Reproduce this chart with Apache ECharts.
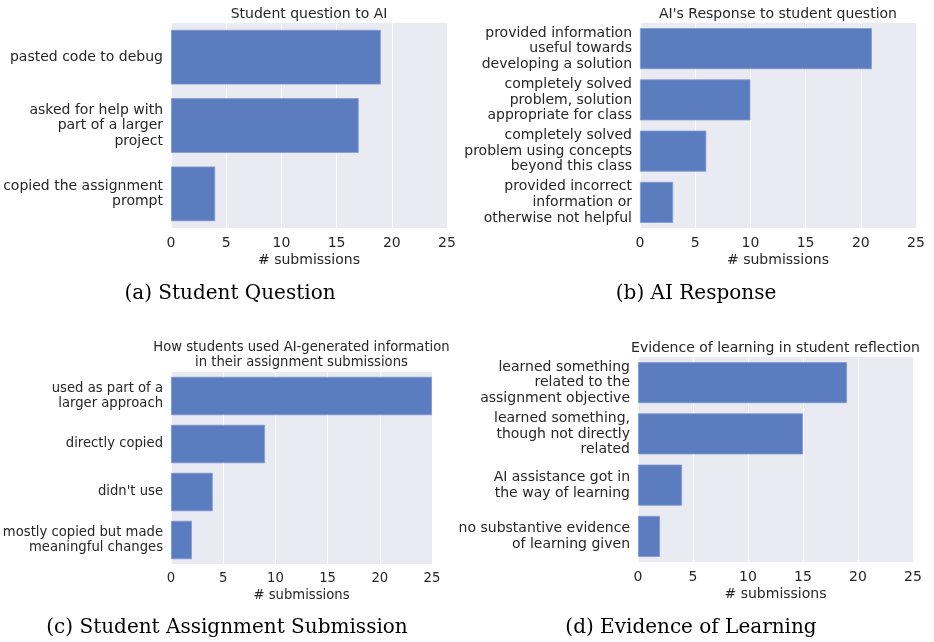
<!DOCTYPE html>
<html>
<head>
<meta charset="utf-8">
<script src="https://cdn.jsdelivr.net/npm/echarts@6/dist/echarts.min.js"></script>
<style>
  html, body { margin: 0; padding: 0; background: #fff; }
  #chart { width: 934px; height: 642px; }
</style>
</head>
<body>
<div id="chart"></div>
<script>
// panel (a)
const questionCats = ["pasted code to debug", "asked for help with\npart of a larger\nproject", "copied the assignment\nprompt"];
const questionVals = [19, 17, 4];
// panel (b)
const responseCats = ["provided information\nuseful towards\ndeveloping a solution", "completely solved\nproblem, solution\nappropriate for class", "completely solved\nproblem using concepts\nbeyond this class", "provided incorrect\ninformation or\notherwise not helpful"];
const responseVals = [21, 10, 6, 3];
// panel (c)
const submissionCats = ["used as part of a\nlarger approach", "directly copied", "didn't use", "mostly copied but made\nmeaningful changes"];
const submissionVals = [25, 9, 4, 2];
// panel (d)
const learningCats = ["learned something\nrelated to the\nassignment objective", "learned something,\nthough not directly\nrelated", "AI assistance got in\nthe way of learning", "no substantive evidence\nof learning given"];
const learningVals = [19, 15, 4, 2];

const panels = [
  { cats: questionCats, vals: questionVals, title: "Student question to AI", caption: "(a) Student Question", fs: 14,
    grid: { left: 171, top: 23, width: 276, height: 205 }, titleY: 6, capX: 230, capY: 294 },
  { cats: responseCats, vals: responseVals, title: "AI's Response to student question", caption: "(b) AI Response", fs: 14,
    grid: { left: 640, top: 23, width: 276, height: 205 }, titleY: 6, capX: 696, capY: 294 },
  { cats: submissionCats, vals: submissionVals, title: "How students used AI-generated information\nin their assignment submissions", caption: "(c) Student Assignment Submission", fs: 13.2,
    grid: { left: 171, top: 372, width: 261, height: 192 }, titleY: 340, capX: 227, capY: 628 },
  { cats: learningCats, vals: learningVals, title: "Evidence of learning in student reflection", caption: "(d) Evidence of Learning", fs: 14,
    grid: { left: 638, top: 357, width: 275, height: 205 }, titleY: 340, capX: 691, capY: 628 }
];

const textColor = "#262626";
const font = "DejaVu Sans";

const chart = echarts.init(document.getElementById("chart"));

const option = {
  backgroundColor: "#fff",
  animation: false,
  title: [],
  graphic: [],
  grid: [],
  xAxis: [],
  yAxis: [],
  series: []
};

panels.forEach((p, i) => {
  option.grid.push(Object.assign({ backgroundColor: "#EAEAF2", show: true, borderWidth: 0, containLabel: false, outerBoundsMode: "none" }, p.grid));
  option.title.push({
    text: p.title,
    left: p.grid.left + p.grid.width / 2,
    top: p.titleY,
    padding: 0,
    textAlign: "center",
    textStyle: { fontFamily: font, fontSize: p.fs, fontWeight: "normal", color: textColor, lineHeight: p.fs * 1.15 }
  });
  option.graphic.push({
    type: "text",
    x: p.capX,
    y: p.capY,
    style: { text: p.caption, font: "20px 'DejaVu Serif', serif", fill: "#000", textAlign: "center", textVerticalAlign: "middle" }
  });
  option.xAxis.push({
    type: "value",
    gridIndex: i,
    min: 0,
    max: 25,
    interval: 5,
    name: "# submissions",
    nameLocation: "middle",
    nameGap: 25,
    nameTextStyle: { fontFamily: font, fontSize: p.fs, color: textColor },
    axisLine: { show: false },
    axisTick: { show: false },
    axisLabel: { fontFamily: font, fontSize: p.fs, color: textColor, margin: 8, showMaxLabel: true, showMinLabel: true },
    splitLine: { show: true, lineStyle: { color: "#ffffff", width: 1 } }
  });
  option.yAxis.push({
    type: "category",
    gridIndex: i,
    inverse: true,
    data: p.cats,
    axisLine: { show: false },
    axisTick: { show: false },
    axisLabel: { interval: 0, hideOverlap: false, fontFamily: font, fontSize: p.fs, color: textColor, margin: 8, lineHeight: p.fs * 1.11, align: "right" },
    splitLine: { show: false }
  });
  option.series.push({
    type: "bar",
    xAxisIndex: i,
    yAxisIndex: i,
    data: p.vals,
    barCategoryGap: "20%",
    itemStyle: { color: "#5B7DBF", borderColor: "#7F9BD0", borderWidth: 0.8 }
  });
});

chart.setOption(option);
</script>
</body>
</html>
